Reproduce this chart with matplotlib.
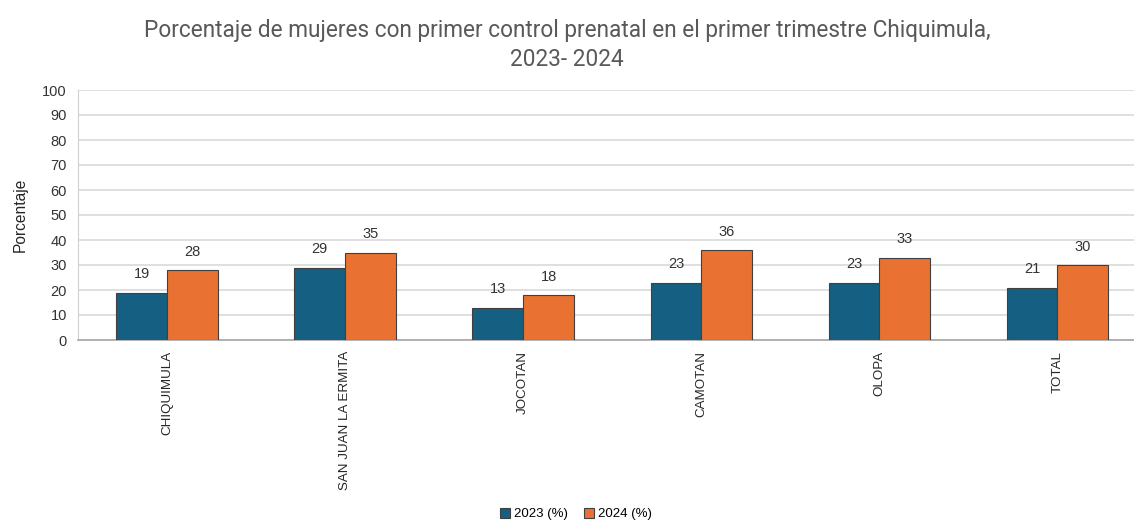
import matplotlib
matplotlib.use("Agg")
import matplotlib.pyplot as plt
import numpy as np

categories = ["CHIQUIMULA", "SAN JUAN LA ERMITA", "JOCOTAN", "CAMOTAN", "OLOPA", "TOTAL"]
values_2023 = [19, 29, 13, 23, 23, 21]
values_2024 = [28, 35, 18, 36, 33, 30]
series_labels = ["2023 (%)", "2024 (%)"]
yticks = list(range(0, 101, 10))

plt.rcParams['font.family'] = ['Liberation Sans', 'DejaVu Sans']

fig = plt.figure(figsize=(11.34, 5.23), dpi=100)
ax = fig.add_axes([78/1134, 183/523, 1 - 78/1134, 250/523])

x = np.arange(len(categories))
w = 0.285
c1, c2 = "#156082", "#E97132"
b1 = ax.bar(x - w/2, values_2023, w, color=c1, edgecolor="#404040", linewidth=0.8, label=series_labels[0], zorder=3)
b2 = ax.bar(x + w/2, values_2024, w, color=c2, edgecolor="#404040", linewidth=0.8, label=series_labels[1], zorder=3)
for bars in (b1, b2):
    ax.bar_label(bars, padding=8, fontsize=10.5, color="#333333")

ax.set_xlim(-0.5, 5.43)
ax.set_ylim(0, 100)
ax.set_yticks(yticks)
ax.tick_params(axis='y', length=0, labelsize=10.5, labelcolor="#333333", pad=8)
ax.set_xticks(x)
ax.set_xticklabels(categories, rotation=90, fontsize=9.6, color="#262626")
ax.tick_params(axis='x', length=0, pad=8)
ax.grid(axis='y', color="#d9d9d9", linewidth=1.2, zorder=0)
for s in ["top", "right"]:
    ax.spines[s].set_visible(False)
ax.spines["left"].set_color("#d0d0d0")
ax.spines["bottom"].set_color("#a6a6a6")
ax.spines["bottom"].set_linewidth(1.2)

fig.text(20/1134, 1 - 215/523, "Porcentaje", rotation=90, ha="center", va="center", fontsize=11.2, color="#262626")
fig.text(0.5, 1 - 45/523, "Porcentaje de mujeres con primer control prenatal en el primer trimestre Chiquimula,\n2023- 2024",
         ha="center", va="center", fontsize=16.3, color="#595959", family=["Roboto", "DejaVu Sans"], linespacing=1.35)

fig.legend(handles=[b1, b2], labels=series_labels, loc="center", bbox_to_anchor=(576/1134, 1 - 514/523),
           ncol=2, frameon=False, fontsize=9.5, handlelength=0.8, handleheight=0.8, handletextpad=0.3, columnspacing=1.2)

fig.savefig("out.png", dpi=100)
